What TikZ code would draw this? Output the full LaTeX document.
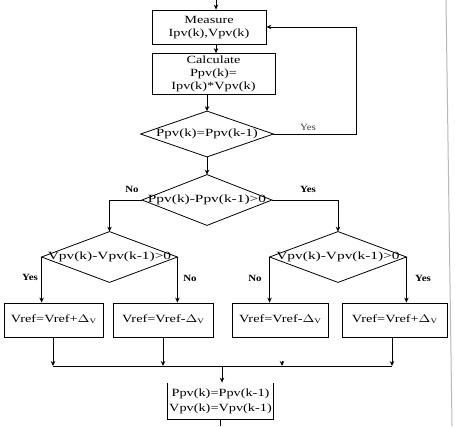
\documentclass[tikz,border=0pt]{standalone}
\usepackage{fontspec}
\setmainfont{Liberation Serif}
\usetikzlibrary{arrows.meta}
\newcommand\tx[2]{\scalebox{#1}[1]{\begin{tabular}{@{}c@{}}#2\end{tabular}}}
\newcommand\dv{$\Delta$\raisebox{-1pt}{\fontsize{7}{8}\selectfont V}}
\begin{document}
\begin{tikzpicture}[x=1pt,y=-1pt,
  line width=0.8pt,
  arr/.style={-{Stealth[length=5pt,width=4.5pt]}},
  boxn/.style={draw, rectangle, inner sep=0pt, font=\fontsize{11}{13}\selectfont},
  dnode/.style={rectangle, inner sep=0pt, font=\fontsize{11}{13}\selectfont},
  lab/.style={font=\fontsize{9.5}{11}\selectfont\bfseries, inner sep=0pt},
  labn/.style={font=\fontsize{9.5}{11}\selectfont, inner sep=0pt, text=black!75}]
\useasboundingbox (0,0) rectangle (455,426);
% scan border
\draw[gray!55, line width=1pt] (446,0) -- (452,426);
% top boxes
\coordinate (start) at (216,0);
\node[boxn, minimum width=114pt, minimum height=34pt] (m) at (209,27) {\tx{1.3}{Measure\\Ipv(k),Vpv(k)}};
\node[boxn, minimum width=123pt, minimum height=41pt] (c) at (213.5,74) {\tx{1.3}{Calculate\\Ppv(k)=\\Ipv(k)*Vpv(k)}};
% diamonds
\node[dnode, minimum width=132pt, minimum height=45pt] (d1) at (207,134) {\tx{1.35}{Ppv(k)=Ppv(k-1)}};
\node[dnode, minimum width=129pt, minimum height=50pt] (d2) at (207,200) {\tx{1.4}{Ppv(k)-Ppv(k-1)>0}};
\node[dnode, minimum width=135pt, minimum height=50pt] (d3) at (109.5,257) {\tx{1.4}{Vpv(k)-Vpv(k-1)>0}};
\node[dnode, minimum width=136pt, minimum height=50pt] (d4) at (338,257) {\tx{1.4}{Vpv(k)-Vpv(k-1)>0}};
\foreach \d in {d1,d2,d3,d4}
  \draw (\d.north) -- (\d.east) -- (\d.south) -- (\d.west) -- cycle;
% action boxes
\node[boxn, minimum width=99pt, minimum height=34pt] (b1) at (53.5,320) {\tx{1.3}{Vref=Vref+\dv}};
\node[boxn, minimum width=100pt, minimum height=34pt] (b2) at (163,320) {\tx{1.3}{Vref=Vref-\dv}};
\node[boxn, minimum width=96pt, minimum height=34pt] (b3) at (280,320) {\tx{1.3}{Vref=Vref-\dv}};
\node[boxn, minimum width=105pt, minimum height=34pt] (b4) at (394.5,320) {\tx{1.3}{Vref=Vref+\dv}};
% bottom box (open top)
\node[rectangle, inner sep=0pt, minimum width=105pt, minimum height=36pt, font=\fontsize{11}{13}\selectfont] (e) at (220.5,401) {\tx{1.3}{Ppv(k)=Ppv(k-1)\\[2pt]Vpv(k)=Vpv(k-1)}};
\draw (e.north west) -- (e.south west) -- (e.south east) -- (e.north east);
\coordinate (end) at (220,426);
% connectors
\draw[arr] (start) -- (start |- m.north);
\draw[arr] (m.south -| start) -- (c.north -| start);
\draw[arr] (c.south -| d1.north) -- (d1.north);
\draw[arr] (d1.south) -- (d2.north);
\coordinate (fb) at (356,0);
\draw[arr] (d1.east) -- (d1.east -| fb) |- (m.east);
\draw[arr] (d2.west) -| (d3.north);
\draw[arr] (d2.east) -| (d4.north);
\draw[arr] (d3.west) -- (d3.west |- b1.north);
\draw[arr] (d3.east) -- (d3.east |- b2.north);
\draw[arr] (d4.west) -- (d4.west |- b3.north);
\draw[arr] (d4.east) -- (d4.east |- b4.north);
% merge
\coordinate (mL) at (53,366);
\coordinate (mR) at (392,366);
\draw (mL) -- (mR);
\draw[arr] (b1.south -| mL) -- (mL);
\draw[arr] (b2.south) -- (b2.south |- mL);
\draw[arr] (282,361) -- (282,366);
\draw[arr] (b4.south -| mR) -- (mR);
\draw[arr] (mL -| 222,0) -- (e.north -| 222,0);
\draw (e.south -| end) -- (end);
% labels
\node[labn] at (308,127) {\scalebox{1.15}[1]{Yes}};
\node[lab] at (132,189) {\scalebox{1.15}[1]{No}};
\node[lab] at (308,189) {\scalebox{1.15}[1]{Yes}};
\node[lab] at (30,277) {\scalebox{1.15}[1]{Yes}};
\node[lab] at (190,278) {\scalebox{1.15}[1]{No}};
\node[lab] at (255,278) {\scalebox{1.15}[1]{No}};
\node[lab] at (423,278) {\scalebox{1.15}[1]{Yes}};
\end{tikzpicture}
\end{document}
